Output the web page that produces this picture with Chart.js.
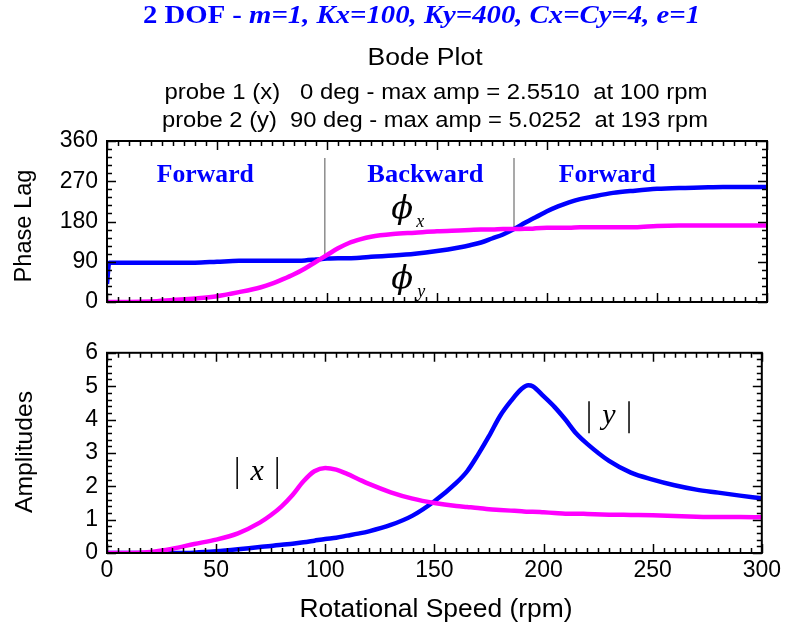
<!DOCTYPE html>
<html>
<head>
<meta charset="utf-8">
<title>Bode Plot</title>
<script src="https://cdn.jsdelivr.net/npm/chart.js@4.4.1/dist/chart.umd.min.js"></script>
<style>
body { margin: 0; background: #fff; }
#wrap { position: relative; width: 785px; height: 634px; }
canvas { position: absolute; left: 0; }
#phase { top: 0; }
#amp { top: 330px; }
</style>
</head>
<body>
<div id="wrap">
	<canvas id="phase" width="785" height="330"></canvas>
	<canvas id="amp" width="785" height="304"></canvas>
</div>
<script>
// rotational speed (rpm) shared by every curve
var rpm    = [0, 1, 10, 20, 30, 40, 50, 60, 70, 75, 80, 85, 90, 95, 100, 105, 110, 115, 120, 130, 140, 150, 160, 165, 170, 175, 180, 185, 190, 193, 195, 200, 205, 210, 215, 220, 230, 240, 250, 260, 270, 280, 290, 300];
// phase lag (deg)
var phaseX = [0, 0, 0, 1, 4.5, 8, 13, 22, 33, 41, 51, 62, 75, 90, 105, 120, 132, 140, 146, 152, 155, 158, 160, 161, 162, 162, 163, 163, 164, 164, 165, 166, 166, 166, 167, 167, 167, 167, 170, 171, 171, 171, 171, 171];
var phaseY = [40, 88, 88, 88, 88, 88, 90, 92, 92, 92, 92, 92, 93, 95, 97, 98, 98, 99, 101, 104, 108, 114, 122, 127, 133, 142, 151, 163, 177, 185, 190, 203, 214, 223, 230, 235, 244, 249, 253, 255, 256, 257, 257, 257];
// amplitudes
var ampX   = [0, 0, 0, 0.03, 0.13, 0.27, 0.40, 0.59, 0.91, 1.13, 1.40, 1.74, 2.15, 2.45, 2.551, 2.50, 2.37, 2.22, 2.07, 1.82, 1.63, 1.50, 1.41, 1.38, 1.35, 1.31, 1.29, 1.27, 1.25, 1.24, 1.24, 1.22, 1.20, 1.18, 1.18, 1.17, 1.15, 1.14, 1.13, 1.11, 1.09, 1.08, 1.08, 1.07];
var ampY   = [0, 0, 0, 0, 0, 0.01, 0.05, 0.11, 0.18, 0.21, 0.25, 0.28, 0.32, 0.37, 0.42, 0.46, 0.52, 0.58, 0.65, 0.84, 1.12, 1.55, 2.10, 2.45, 2.95, 3.50, 4.10, 4.55, 4.92, 5.0252, 5.00, 4.70, 4.38, 4.00, 3.58, 3.27, 2.76, 2.41, 2.20, 2.03, 1.90, 1.81, 1.72, 1.64];

// whirl regions and the speeds where the two phases cross
var regionNames = ['Forward', 'Backward', 'Forward'];
var regionRpm   = [44.7, 144.7, 227.4];
var crossRpm    = [99, 185];
var crossPhase  = [97, 163];

var titleLines = ['probe 1 (x)   0 deg - max amp = 2.5510  at 100 rpm',
                  'probe 2 (y)  90 deg - max amp = 5.0252  at 193 rpm'];

var BLUE = '#0000ff';
var MAGENTA = '#ff00ff';

function pts(xs, ys) {
	return xs.map(function(x, i) { return { x: x, y: ys[i] }; });
}

// draw text squeezed/stretched to a given width, centred at cx, cy
function fitText(ctx, str, cx, cy, font, w, color) {
	ctx.save();
	ctx.font = font;
	ctx.fillStyle = color || '#000';
	ctx.textAlign = 'center';
	ctx.textBaseline = 'middle';
	var m = ctx.measureText(str).width;
	ctx.translate(cx, cy);
	ctx.scale(w / m, 1);
	ctx.fillText(str, 0, 0);
	ctx.restore();
}

function vText(ctx, str, cx, cy, font, w) {
	ctx.save();
	ctx.translate(cx, cy);
	ctx.rotate(-Math.PI / 2);
	fitText(ctx, str, 0, 0, font, w);
	ctx.restore();
}

// black box with inward ticks on all four sides
function drawFrame(chart, xMinor, xMajor, yMinor, yMajor) {
	var ctx = chart.ctx, a = chart.chartArea;
	var xs = chart.scales.x, ys = chart.scales.y;
	ctx.save();
	ctx.strokeStyle = '#000';
	ctx.lineWidth = 1.5;
	ctx.beginPath();
	var v, p, len;
	for (v = xs.min; v <= xs.max + 1e-9; v += xMinor) {
		p = Math.round(xs.getPixelForValue(v)) + 0.5;
		len = Math.abs(v / xMajor - Math.round(v / xMajor)) < 1e-6 ? 9 : 5;
		ctx.moveTo(p, a.bottom); ctx.lineTo(p, a.bottom - len);
		ctx.moveTo(p, a.top); ctx.lineTo(p, a.top + len);
	}
	for (v = ys.min; v <= ys.max + 1e-9; v += yMinor) {
		p = Math.round(ys.getPixelForValue(v)) + 0.5;
		len = Math.abs(v / yMajor - Math.round(v / yMajor)) < 1e-6 ? 9 : 5;
		ctx.moveTo(a.left, p); ctx.lineTo(a.left + len, p);
		ctx.moveTo(a.right, p); ctx.lineTo(a.right - len, p);
	}
	ctx.stroke();
	ctx.lineWidth = 2;
	ctx.strokeRect(a.left, a.top, a.right - a.left, a.bottom - a.top);
	ctx.restore();
}

var tickFont = { family: 'Liberation Sans, Arial, sans-serif', size: 23 };

var phaseDecor = {
	id: 'phaseDecor',
	beforeDatasetsDraw: function(chart) {
		var ctx = chart.ctx, xs = chart.scales.x, ys = chart.scales.y;
		ctx.save();
		ctx.strokeStyle = '#8c8c8c';
		ctx.lineWidth = 1.5;
		crossRpm.forEach(function(r, i) {
			var px = xs.getPixelForValue(r);
			ctx.beginPath();
			ctx.moveTo(px, ys.getPixelForValue(322));
			ctx.lineTo(px, ys.getPixelForValue(crossPhase[i]));
			ctx.stroke();
		});
		ctx.restore();
	},
	afterDraw: function(chart) {
		var ctx = chart.ctx, xs = chart.scales.x, ys = chart.scales.y;
		drawFrame(chart, 5, 50, 18, 90);

		// main title: plain part then italic parameters
		ctx.save();
		var f1 = 'bold 25px "Liberation Serif", "Times New Roman", serif';
		var f2 = 'italic bold 25px "Liberation Serif", "Times New Roman", serif';
		var s1 = '2 DOF - ', s2 = 'm=1, Kx=100, Ky=400, Cx=Cy=4, e=1';
		ctx.font = f1; var w1 = ctx.measureText(s1).width;
		ctx.font = f2; var w2 = ctx.measureText(s2).width;
		var k = 557 / (w1 + w2);
		ctx.translate(143, 17);
		ctx.scale(k, 1);
		ctx.fillStyle = BLUE;
		ctx.textBaseline = 'middle';
		ctx.textAlign = 'left';
		ctx.font = f1; ctx.fillText(s1, 0, 0);
		ctx.font = f2; ctx.fillText(s2, w1, 0);
		ctx.restore();

		fitText(ctx, 'Bode Plot', 425, 59, '23px "Liberation Sans", Arial, sans-serif', 115);
		fitText(ctx, titleLines[0], 436, 93, '22px "Liberation Sans", Arial, sans-serif', 543);
		fitText(ctx, titleLines[1], 435, 121, '22px "Liberation Sans", Arial, sans-serif', 546);

		vText(ctx, 'Phase Lag', 25, 226, '23px "Liberation Sans", Arial, sans-serif', 113);

		regionNames.forEach(function(name, i) {
			var w = name === 'Backward' ? 116 : 97;
			fitText(ctx, name, xs.getPixelForValue(regionRpm[i]), ys.getPixelForValue(282),
				'bold 25px "Liberation Serif", "Times New Roman", serif', w, BLUE);
		});

		// phase symbols
		ctx.save();
		ctx.fillStyle = '#000';
		ctx.textAlign = 'center';
		ctx.textBaseline = 'middle';
		var phx = xs.getPixelForValue(134.2);
		ctx.font = 'italic 32px "DejaVu Serif", "Liberation Serif", serif';
		ctx.fillText('\u03D5', phx, ys.getPixelForValue(206));
		ctx.fillText('\u03D5', phx, ys.getPixelForValue(49));
		ctx.font = 'italic 18px "Liberation Serif", serif';
		ctx.fillText('x', phx + 18, ys.getPixelForValue(178));
		ctx.fillText('y', phx + 19, ys.getPixelForValue(22));
		ctx.restore();
	}
};

var ampDecor = {
	id: 'ampDecor',
	afterDraw: function(chart) {
		var ctx = chart.ctx, xs = chart.scales.x, ys = chart.scales.y;
		drawFrame(chart, 5, 50, 0.2, 1);
		vText(ctx, 'Amplitudes', 25, 122, '24px "Liberation Sans", Arial, sans-serif', 122);
		fitText(ctx, 'Rotational Speed (rpm)', 436, 280, '26px "Liberation Sans", Arial, sans-serif', 273);

		// |x| and |y| labels
		function absLabel(letter, r, amp, half) {
			var cx = xs.getPixelForValue(r), cy = ys.getPixelForValue(amp);
			ctx.save();
			ctx.strokeStyle = '#000';
			ctx.lineWidth = 1.5;
			ctx.beginPath();
			ctx.moveTo(cx - half, cy - 16); ctx.lineTo(cx - half, cy + 16);
			ctx.moveTo(cx + half, cy - 16); ctx.lineTo(cx + half, cy + 16);
			ctx.stroke();
			ctx.fillStyle = '#000';
			ctx.font = 'italic 30px "Liberation Serif", "Times New Roman", serif';
			ctx.textAlign = 'center';
			ctx.textBaseline = 'middle';
			ctx.fillText(letter, cx, cy - 1);
			ctx.restore();
		}
		absLabel('x', 68.8, 2.40, 20);
		absLabel('y', 230, 4.07, 20);
	}
};

function lineSet(data, color) {
	return {
		data: data,
		borderColor: color,
		borderWidth: 4.5,
		pointRadius: 0,
		fill: false,
		cubicInterpolationMode: 'monotone'
	};
}

var phaseChart = new Chart(document.getElementById('phase').getContext('2d'), {
	type: 'line',
	data: {
		datasets: [lineSet(pts(rpm, phaseX), MAGENTA), lineSet(pts(rpm, phaseY), BLUE)]
	},
	options: {
		responsive: false,
		animation: false,
		layout: { padding: { top: 141, right: 18, bottom: 28, left: 0 } },
		plugins: { legend: { display: false }, tooltip: { enabled: false } },
		scales: {
			x: { type: 'linear', min: 0, max: 300, display: false },
			y: {
				min: 0, max: 360,
				ticks: { stepSize: 90, color: '#000', font: tickFont, padding: 9 },
				grid: { display: false, drawTicks: false },
				border: { display: false },
				afterFit: function(s) { s.width = 107; }
			}
		}
	},
	plugins: [phaseDecor]
});

var ampChart = new Chart(document.getElementById('amp').getContext('2d'), {
	type: 'line',
	data: {
		datasets: [lineSet(pts(rpm, ampX), MAGENTA), lineSet(pts(rpm, ampY), BLUE)]
	},
	options: {
		responsive: false,
		animation: false,
		layout: { padding: { top: 18, right: 18, bottom: 0, left: 0 } },
		plugins: { legend: { display: false }, tooltip: { enabled: false } },
		scales: {
			x: {
				type: 'linear', min: 0, max: 300,
				ticks: { stepSize: 50, color: '#000', font: tickFont, padding: 4, maxRotation: 0 },
				grid: { display: false, drawTicks: false },
				border: { display: false },
				afterFit: function(s) { s.height = 81; }
			},
			y: {
				min: 0, max: 6,
				ticks: { stepSize: 1, color: '#000', font: tickFont, padding: 9 },
				grid: { display: false, drawTicks: false },
				border: { display: false },
				afterFit: function(s) { s.width = 107; }
			}
		}
	},
	plugins: [ampDecor]
});
</script>
</body>
</html>
